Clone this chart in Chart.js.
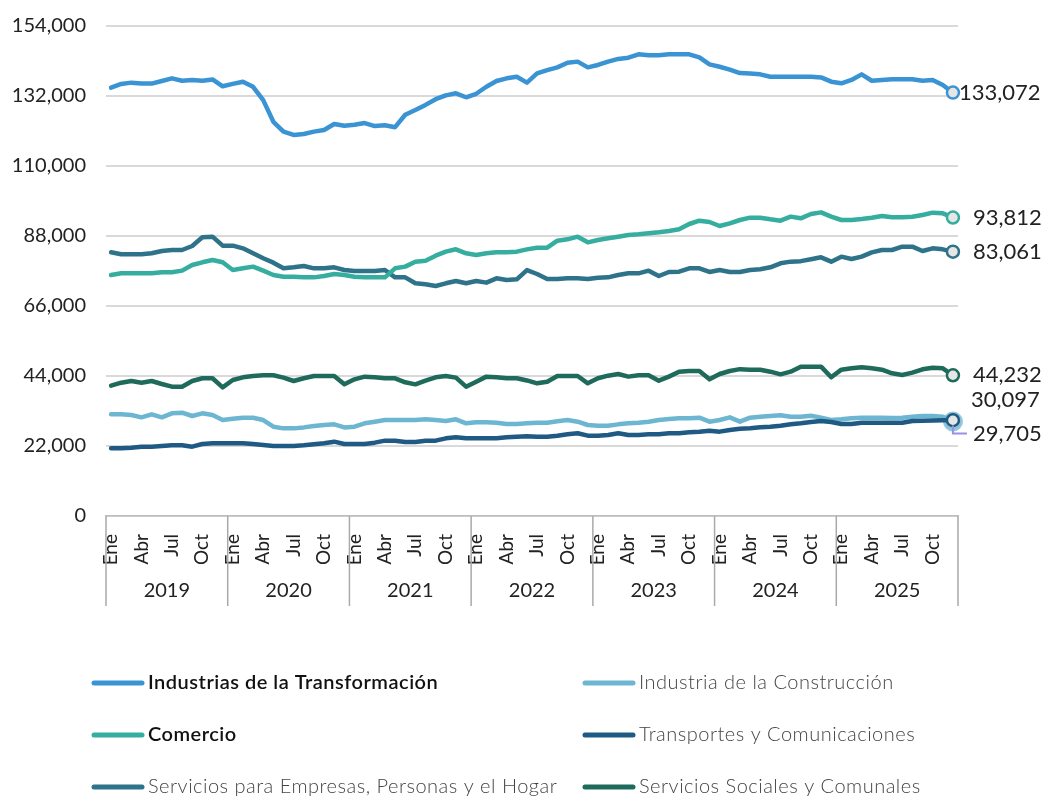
<!DOCTYPE html>
<html>
<head>
<meta charset="utf-8">
<script src="https://cdn.jsdelivr.net/npm/chart.js@4.4.1/dist/chart.umd.min.js"></script>
<style>
  body { margin: 0; background: #fff; }
  #wrap { width: 1049px; height: 798px; }
</style>
</head>
<body>
<div id="wrap"><canvas id="myChart" width="1049" height="798"></canvas></div>
<script>
// categorias del eje
const years = ['2019', '2020', '2021', '2022', '2023', '2024', '2025'];
const months = ['Ene', 'Feb', 'Mar', 'Abr', 'May', 'Jun', 'Jul', 'Ago', 'Sep', 'Oct', 'Nov', 'Dic'];
const yTicks = [0, 22000, 44000, 66000, 88000, 110000, 132000, 154000];

const seriesNames = [
  'Industrias de la Transformación',
  'Industria de la Construcción',
  'Comercio',
  'Transportes y Comunicaciones',
  'Servicios para Empresas, Personas y el Hogar',
  'Servicios Sociales y Comunales'
];

const transformacion = [
  134600, 135800, 136200, 135900, 135900, 136700, 137550, 136800, 137000, 136800, 137200, 135050,
  135800, 136500, 134900, 130700, 123900, 120800, 119750, 120050, 120800, 121300, 123200, 122650,
  122950, 123500, 122550, 122800, 122200, 126100, 127600, 129200, 131000, 132200, 132850, 131600,
  132700, 134900, 136700, 137550, 138050, 136200, 139100, 140150, 141000, 142450, 142800, 141000,
  141750, 142800, 143650, 144050, 145100, 144800, 144800, 145100, 145100, 145100, 144150, 141950,
  141200, 140300, 139200, 139100, 138800, 138050, 138050, 138050, 138050, 138050, 137850, 136500,
  136000, 137050, 138800, 136800, 137050, 137250, 137250, 137250, 136800, 137050, 135450, 133072
];
const construccion = [
  31950, 31950, 31740, 31010, 31950, 31010, 32270, 32480, 31430, 32270, 31740, 30170,
  30590, 30900, 30900, 30170, 28070, 27540, 27540, 27850, 28290, 28600, 28800, 27850,
  28070, 29120, 29640, 30170, 30170, 30170, 30170, 30380, 30170, 29860, 30380, 29120,
  29430, 29430, 29330, 28910, 28910, 29120, 29330, 29330, 29750, 30170, 29640, 28600,
  28390, 28390, 28800, 29120, 29330, 29640, 30170, 30490, 30700, 30700, 30910, 29640,
  30170, 31010, 29640, 30910, 31220, 31430, 31640, 31220, 31220, 31530, 30910, 30170,
  30380, 30700, 30900, 30900, 30900, 30800, 30900, 31220, 31430, 31430, 31220, 29705
];
const comercio = [
  75740, 76270, 76270, 76270, 76270, 76600, 76600, 77110, 78890, 79730, 80460, 79730,
  77320, 77840, 78370, 77110, 75740, 75210, 75210, 75000, 75000, 75430, 76060, 75740,
  75210, 75000, 75000, 75000, 77840, 78370, 79940, 80250, 81820, 83080, 83820, 82560,
  82030, 82560, 82870, 82870, 83080, 83800, 84330, 84330, 86530, 86960, 87790, 86010,
  86740, 87270, 87790, 88310, 88530, 88840, 89160, 89570, 90100, 91770, 92820, 92400,
  91140, 91980, 93030, 93760, 93760, 93240, 92820, 94080, 93550, 94910, 95430, 94080,
  93030, 93030, 93340, 93760, 94290, 93860, 93860, 94080, 94600, 95330, 95120, 93812
];
const transportes = [
  21270, 21270, 21480, 21790, 21790, 22000, 22210, 22210, 21790, 22630, 22840, 22840,
  22840, 22840, 22630, 22310, 22000, 22000, 22000, 22210, 22530, 22840, 23360, 22630,
  22630, 22630, 23050, 23680, 23680, 23260, 23260, 23680, 23680, 24410, 24730, 24410,
  24410, 24410, 24410, 24730, 24940, 25100, 24940, 24940, 25250, 25670, 25990, 25250,
  25250, 25460, 25990, 25460, 25460, 25670, 25670, 25990, 25990, 26300, 26510, 26820,
  26510, 27030, 27400, 27560, 27870, 28080, 28390, 28810, 29120, 29540, 29860, 29540,
  28910, 28910, 29330, 29330, 29330, 29330, 29330, 29860, 29950, 30050, 30100, 30097
];
const servEmpresas = [
  82870, 82240, 82240, 82240, 82560, 83290, 83600, 83600, 84860, 87590, 87800, 84960,
  84960, 84120, 82560, 81000, 79620, 77840, 78160, 78570, 77840, 77840, 78160, 77320,
  77000, 77000, 77000, 77320, 75000, 75000, 73130, 72810, 72290, 73130, 73860, 73130,
  73860, 73340, 74700, 74170, 74390, 77300, 76060, 74490, 74490, 74700, 74700, 74490,
  74910, 75010, 75740, 76270, 76270, 77110, 75430, 76690, 76800, 77840, 77840, 76690,
  77320, 76690, 76690, 77320, 77530, 78160, 79420, 79940, 80100, 80670, 81300, 79940,
  81510, 80780, 81510, 82870, 83600, 83600, 84650, 84650, 83290, 84120, 83810, 83061
];
const servSociales = [
  40960, 41900, 42430, 41900, 42430, 41490, 40640, 40640, 42430, 43280, 43280, 40430,
  42740, 43590, 44000, 44220, 44220, 43490, 42430, 43280, 44000, 44000, 44000, 41380,
  42950, 43800, 43590, 43280, 43280, 42010, 41380, 42530, 43590, 44000, 43490, 40640,
  42220, 43800, 43590, 43280, 43280, 42600, 41700, 42220, 44000, 44000, 44000, 41700,
  43280, 44100, 44630, 43800, 44220, 44220, 42530, 43800, 45360, 45580, 45580, 42950,
  44630, 45580, 46150, 45990, 45990, 45360, 44530, 45360, 46940, 46940, 46940, 43590,
  45990, 46410, 46730, 46410, 45990, 44850, 44320, 45050, 46100, 46620, 46410, 44232
];

const colors = ['#3a94d4', '#6cb6d2', '#36ae9f', '#1f5a84', '#2e7389', '#1e6b5c'];
// desplazamiento de las etiquetas finales [dx, dy]
const labelOffsets = [[6, 0], [20, 12], [20, 0], [18, -20], [20, 0], [20, 0]];
const boldLegend = [true, false, true, false, false, false];

const FONT = 'Lato, "Open Sans", sans-serif';

const categories = [];
years.forEach(y => months.forEach(m => categories.push(m + ' ' + y)));

const allSeries = [transformacion, construccion, comercio, transportes, servEmpresas, servSociales];
const last = categories.length - 1;

const datasets = allSeries.map((data, i) => ({
  label: seriesNames[i],
  data: data,
  borderColor: colors[i],
  borderWidth: 4.5,
  borderJoinStyle: 'round',
  borderCapStyle: 'round',
  tension: 0,
  pointRadius: ctx => ctx.dataIndex === last ? (i === 1 ? 8 : 6) : 0,
  pointBackgroundColor: '#e6e6e6',
  pointBorderColor: i === 1 ? 'rgba(108,182,210,0.75)' : colors[i],
  pointBorderWidth: i === 1 ? 4 : 2.5,
  order: i === 1 ? 5 : i
}));

const fmt = v => Number(v).toLocaleString('en-US');

const yearAxis = {
  id: 'yearAxis',
  afterDraw(chart) {
    const c = chart.ctx, x = chart.scales.x, top = chart.chartArea.bottom;
    const half = (x.getPixelForValue(1) - x.getPixelForValue(0)) / 2;
    const bounds = [];
    for (let k = 0; k <= years.length; k++) {
      bounds.push(k < years.length ? x.getPixelForValue(k * 12) - half : x.getPixelForValue(last) + half);
    }
    c.save();
    c.strokeStyle = '#a9a9a9';
    c.lineWidth = 1.5;
    bounds.forEach(b => {
      c.beginPath(); c.moveTo(b, top); c.lineTo(b, top + 90); c.stroke();
    });
    c.fillStyle = '#222';
    c.font = '20px ' + FONT;
    c.textAlign = 'center';
    c.textBaseline = 'middle';
    years.forEach((y, k) => c.fillText(y, (bounds[k] + bounds[k + 1]) / 2, top + 75));
    c.restore();
  }
};

const endLabels = {
  id: 'endLabels',
  afterDatasetsDraw(chart) {
    const c = chart.ctx;
    c.save();
    c.font = '22px ' + FONT;
    c.fillStyle = '#222';
    c.textAlign = 'left';
    c.textBaseline = 'middle';
    chart.data.datasets.forEach((ds, i) => {
      const p = chart.getDatasetMeta(i).data[last];
      const [dx, dy] = labelOffsets[i];
      c.fillText(fmt(ds.data[last]), p.x + dx, p.y + dy);
      if (i === 1) {
        c.strokeStyle = '#9b8fe3';
        c.lineWidth = 2;
        c.beginPath();
        c.moveTo(p.x, p.y + 4);
        c.lineTo(p.x, p.y + dy);
        c.lineTo(p.x + 14, p.y + dy);
        c.stroke();
      }
    });
    c.restore();
  }
};

const gridLegend = {
  id: 'gridLegend',
  afterDraw(chart) {
    const c = chart.ctx;
    const colX = [92, 583], rowY = [683, 735, 787];
    c.save();
    c.textBaseline = 'middle';
    c.letterSpacing = '0.5px';
    chart.data.datasets.forEach((ds, i) => {
      const x = colX[i % 2], y = rowY[Math.floor(i / 2)];
      c.strokeStyle = ds.borderColor;
      c.lineWidth = 5;
      c.lineCap = 'round';
      c.beginPath(); c.moveTo(x + 2, y); c.lineTo(x + 50, y); c.stroke();
      c.font = (boldLegend[i] ? '600 ' : '300 ') + '20px ' + FONT;
      c.fillStyle = boldLegend[i] ? '#111' : '#444';
      c.fillText(ds.label, x + 56, y);
    });
    c.restore();
  }
};

const ctx = document.getElementById('myChart');
new Chart(ctx, {
  type: 'line',
  data: { labels: categories, datasets: datasets },
  plugins: [yearAxis, endLabels, gridLegend],
  options: {
    responsive: false,
    animation: false,
    layout: { padding: { top: 26, right: 91, left: 0, bottom: 0 } },
    plugins: {
      legend: { display: false },
      tooltip: { enabled: false }
    },
    scales: {
      x: {
        offset: true,
        grid: { display: false },
        border: { color: '#bdbdbd', width: 1.5 },
        ticks: {
          autoSkip: false,
          maxRotation: 90,
          minRotation: 90,
          padding: 10,
          color: '#222',
          font: { family: FONT, size: 19 },
          callback: (v, i) => i % 3 === 0 ? months[i % 12] : ''
        },
        afterFit: s => { s.height = 282; }
      },
      y: {
        min: 0,
        max: 154000,
        afterBuildTicks: s => { s.ticks = yTicks.map(v => ({ value: v })); },
        ticks: {
          padding: 20,
          color: '#222',
          font: { family: FONT, size: 20 },
          callback: v => fmt(v)
        },
        grid: { color: '#d9d9d9', lineWidth: 2, drawTicks: false },
        border: { display: false },
        afterFit: s => { s.width = 106; s.paddingTop = 0; s.paddingBottom = 0; }
      }
    }
  }
});
</script>
</body>
</html>
